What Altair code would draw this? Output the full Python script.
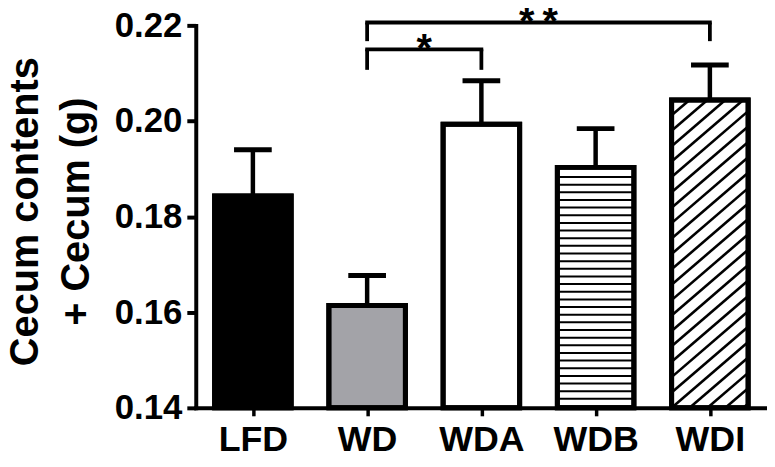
import json
import altair as alt
import numpy as np
import pandas as pd

# ---------------- data ----------------
groups = ["LFD", "WD", "WDA", "WDB", "WDI"]
means = [0.1843, 0.1614, 0.1993, 0.1903, 0.2044]
sems = [0.0097, 0.0063, 0.0091, 0.0081, 0.0073]
fills = ["#000000", "#a3a3a8", "#ffffff", "#ffffff", "#ffffff"]
patterns = ["none", "none", "none", "horizontal", "diagonal"]

comp_left = ["WD", "WD"]
comp_right = ["WDA", "WDI"]
comp_stars = ["*", "*\u2009*"]
comp_top = [0.2150, 0.2206]
comp_leg = [0.2107, 0.2167]

y_ticks = [0.14, 0.16, 0.18, 0.20, 0.22]
y_title = ["Cecum contents", "+ Cecum (g)"]

# ---------------- layout / style ----------------
FONT = "Liberation Sans"
W, H = 575, 385
X_DOMAIN = [-0.5, 4.5]
Y_DOMAIN = [0.14, 0.22]
BASE = Y_DOMAIN[0]
HALF = 0.335   # half bar width (x units)
CAP = 0.165    # half error cap width (x units)
PX_X = W / (X_DOMAIN[1] - X_DOMAIN[0])
PX_Y = H / (Y_DOMAIN[1] - Y_DOMAIN[0])

idx = list(range(len(groups)))
bars = pd.DataFrame({
    "group": groups,
    "idx": idx,
    "mean": means,
    "top": [m + s for m, s in zip(means, sems)],
    "fill": fills,
    "pattern": patterns,
})
bars["x0"] = bars["idx"] - HALF
bars["x1"] = bars["idx"] + HALF
bars["cx0"] = bars["idx"] - CAP
bars["cx1"] = bars["idx"] + CAP
bars["base"] = BASE

# texture for patterned bars (decoration, derived from bar geometry)
stripe_rows, hatch_rows = [], []
for _, r in bars.iterrows():
    hpx = (r["mean"] - BASE) * PX_Y
    wpx = 2 * HALF * PX_X
    if r["pattern"] == "horizontal":
        ypx = hpx - 9.7
        while ypx > 1:
            stripe_rows.append({"y": BASE + ypx / PX_Y, "x0": r["x0"], "x1": r["x1"]})
            ypx -= 7.7
    elif r["pattern"] == "diagonal":
        slope, gap = 0.86, 15.5
        c = hpx
        while c > -slope * wpx:
            xa = max(0.0, -c / slope)
            xb = min(wpx, (hpx - c) / slope)
            if xb > xa:
                hatch_rows.append({
                    "x": r["x0"] + xa / PX_X, "x2": r["x0"] + xb / PX_X,
                    "y": BASE + (slope * xa + c) / PX_Y, "y2": BASE + (slope * xb + c) / PX_Y,
                })
            c -= gap
stripes = pd.DataFrame(stripe_rows)
hatch = pd.DataFrame(hatch_rows)

pos = {g: i for i, g in enumerate(groups)}
brk = pd.DataFrame({
    "li": [pos[g] for g in comp_left],
    "ri": [pos[g] for g in comp_right],
    "top": comp_top,
    "leg": comp_leg,
    "label": comp_stars,
})
brk["mid"] = (brk["li"] + brk["ri"]) / 2

xs = alt.Scale(domain=X_DOMAIN, nice=False, zero=False)
ys = alt.Scale(domain=Y_DOMAIN, nice=False, zero=False)

x_axis = alt.Axis(
    values=idx, labelExpr=json.dumps(groups).replace('"', "'") + "[datum.value]",
    title=None, grid=False, domainWidth=4, domainColor="black", domainCap="square",
    tickWidth=3.5, tickSize=8, tickColor="black",
    labelFont=FONT, labelFontSize=36, labelFontWeight="bold", labelColor="black",
    labelPadding=7, labelFlush=False, labelOverlap=False,
)
y_axis = alt.Axis(
    values=y_ticks, format=".2f", grid=False,
    domainWidth=4, domainColor="black", domainCap="square",
    tickWidth=4, tickSize=9, tickColor="black",
    labelFont=FONT, labelFontSize=35, labelFontWeight="bold", labelColor="black",
    labelPadding=5,
    title=y_title, titleFont=FONT, titleFontSize=40, titleFontWeight="bold",
    titleColor="black", titleLineHeight=51, titleAngle=270,
    titleX=-159, titleY=187, titleAlign="center", titleBaseline="alphabetic",
)


def X(field):
    return alt.X(field, scale=xs, axis=x_axis)


def Y(field):
    return alt.Y(field, scale=ys, axis=y_axis)


bar_fill = alt.Chart(bars).mark_rect(stroke="black", strokeWidth=5, clip=False).encode(
    x=X("x0:Q"), x2="x1:Q", y=Y("mean:Q"), y2="base:Q",
    fill=alt.Fill("fill:N", scale=None),
)

stripe_layer = alt.Chart(stripes).mark_rule(color="black", strokeWidth=2, clip=False).encode(
    x=X("x0:Q"), x2="x1:Q", y=Y("y:Q"),
)

hatch_layer = alt.Chart(hatch).mark_rule(color="black", strokeWidth=2.6, clip=False).encode(
    x=X("x:Q"), x2="x2:Q", y=Y("y:Q"), y2="y2:Q",
)

bar_outline = alt.Chart(bars).mark_rect(
    stroke="black", strokeWidth=5, fillOpacity=0, fill="white", clip=False
).encode(
    x=X("x0:Q"), x2="x1:Q", y=Y("mean:Q"), y2="base:Q",
)

err_stem = alt.Chart(bars).mark_rule(color="black", strokeWidth=4.5, clip=False).encode(
    x=X("idx:Q"), y=Y("mean:Q"), y2="top:Q",
)
err_cap = alt.Chart(bars).mark_rule(color="black", strokeWidth=5, clip=False).encode(
    x=X("cx0:Q"), x2="cx1:Q", y=Y("top:Q"),
)

brk_h = alt.Chart(brk).mark_rule(color="black", strokeWidth=3.8, strokeCap="square", clip=False).encode(
    x=X("li:Q"), x2="ri:Q", y=Y("top:Q"),
)
brk_l = alt.Chart(brk).mark_rule(color="black", strokeWidth=3.8, clip=False).encode(
    x=X("li:Q"), y=Y("leg:Q"), y2="top:Q",
)
brk_r = alt.Chart(brk).mark_rule(color="black", strokeWidth=3.8, clip=False).encode(
    x=X("ri:Q"), y=Y("leg:Q"), y2="top:Q",
)
stars = alt.Chart(brk).mark_text(
    font=FONT, fontSize=40, fontWeight="bold", color="black", align="center",
    baseline="alphabetic", dy=13, clip=False
).encode(
    x=X("mid:Q"), y=Y("top:Q"), text="label:N",
)

chart = alt.layer(
    bar_fill, stripe_layer, hatch_layer, bar_outline, err_stem, err_cap,
    brk_h, brk_l, brk_r, stars,
).properties(
    width=W, height=H,
    padding={"left": 189, "top": 16, "right": 0, "bottom": 50},
    autosize=alt.AutoSizeParams(type="none"),
    background="white",
).configure_view(stroke=None)

chart.save("out.html", embed_options={"renderer": "svg", "actions": False})
